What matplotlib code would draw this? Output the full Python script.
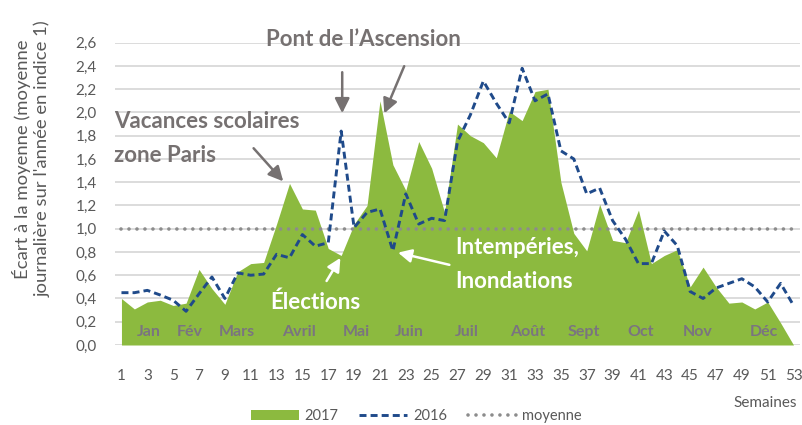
import matplotlib
matplotlib.use("Agg")
import matplotlib.pyplot as plt
from matplotlib.lines import Line2D
from matplotlib.patches import Patch

plt.rcParams['font.family'] = ['Lato', 'DejaVu Sans']

weeks = list(range(1, 54))
v2017 = [0.40, 0.31, 0.37, 0.385, 0.34, 0.36, 0.65, 0.485, 0.35, 0.63,
         0.70, 0.71, 1.04, 1.39, 1.17, 1.16, 0.83, 0.77, 1.04, 1.20,
         2.10, 1.55, 1.33, 1.75, 1.52, 1.14, 1.90, 1.80, 1.74, 1.61,
         2.01, 1.93, 2.18, 2.20, 1.40, 0.96, 0.81, 1.21, 0.90, 0.88,
         1.16, 0.70, 0.77, 0.82, 0.50, 0.67, 0.50, 0.36, 0.37, 0.31,
         0.37, 0.19, 0.0]
v2016 = [0.45, 0.45, 0.47, 0.43, 0.385, 0.29, 0.44, 0.585, 0.40, 0.62,
         0.60, 0.61, 0.78, 0.75, 0.95, 0.85, 0.88, 1.84, 1.01, 1.14,
         1.17, 0.81, 1.30, 1.04, 1.09, 1.07, 1.75, 1.98, 2.27, 2.08,
         1.91, 2.38, 2.10, 2.16, 1.67, 1.60, 1.30, 1.35, 1.07, 0.91,
         0.70, 0.70, 0.98, 0.855, 0.46, 0.40, 0.49, 0.53, 0.57, 0.50,
         0.37, 0.53, 0.34]
moyenne = [1.0] * len(weeks)

months = ['Jan', 'Fév', 'Mars', 'Avril', 'Mai', 'Juin', 'Juil', 'Août',
          'Sept', 'Oct', 'Nov', 'Déc']
month_pos = [3.1, 6.3, 9.9, 14.7, 19.2, 23.3, 27.7, 32.4, 36.8, 41.2, 45.6, 50.7]
yticks = [0.0, 0.2, 0.4, 0.6, 0.8, 1.0, 1.2, 1.4, 1.6, 1.8, 2.0, 2.2, 2.4, 2.6]
xticks = list(range(1, 54, 2))

GREEN = '#8cba3f'
BLUE = '#1f4a8a'
DOT = '#8c8c8c'
GRID = '#d9d9d9'
TXT = '#595959'
ANN = '#767171'

fig = plt.figure(figsize=(8.03, 4.25), dpi=100)
ax = fig.add_axes([115/803, 1-345/425, 685/803, (345-42.7)/425])

for y in yticks:
    ax.axhline(y, color=GRID, lw=1.3, zorder=0)

ax.fill_between(weeks, 0, v2017, color=GREEN, lw=0, zorder=1)
ax.plot(weeks, v2016, color=BLUE, lw=2.1, linestyle=(0, (2.4, 1.4)), zorder=3)
ax.plot(weeks, moyenne, color=DOT, lw=2.6, linestyle=(0, (0.01, 2.2)),
        dash_capstyle='round', zorder=2)

ax.set_xlim(0.5, 53.5)
ax.set_ylim(0, 2.6)
ax.set_yticks(yticks)
ax.set_yticklabels([f"{t:.1f}".replace('.', ',') for t in yticks])
ax.set_xticks(xticks)
ax.set_xticklabels([str(w) for w in xticks])
ax.tick_params(axis='both', length=0, labelsize=11, colors=TXT)
ax.tick_params(axis='x', pad=17)
ax.tick_params(axis='y', pad=13)
for s in ax.spines.values():
    s.set_visible(False)

fig.text(31.5/803, 1-159/425,
         "Écart à la moyenne (moyenne\njournalière sur l'année en indice 1)",
         rotation=90, ha='center', va='center', fontsize=13.3, color=TXT,
         linespacing=1.25, multialignment='center')

for m, p in zip(months, month_pos):
    ax.text(p, 0.11, m, ha='center', va='center', fontsize=11.5,
            fontweight='bold', color='#7a7480', zorder=4)

# Annotations
ax.text(19.7, 2.626, "Pont de l\u2019Ascension", ha='center', va='center',
        fontsize=16, fontweight='bold', color=ANN, clip_on=False)
ax.annotate('', xy=(18.08, 1.97), xytext=(18.08, 2.37),
            arrowprops=dict(arrowstyle='-|>', color=ANN, lw=1.8, mutation_scale=22))
ax.annotate('', xy=(21.25, 1.97), xytext=(22.96, 2.42),
            arrowprops=dict(arrowstyle='-|>', color=ANN, lw=1.8, mutation_scale=22))

ax.text(0.40, 1.776, "Vacances scolaires\nzone Paris", ha='left', va='center',
        fontsize=16, fontweight='bold', color=ANN, linespacing=1.8)
ax.annotate('', xy=(13.66, 1.39), xytext=(11.08, 1.71),
            arrowprops=dict(arrowstyle='-|>', color=ANN, lw=1.8, mutation_scale=22))

ax.text(16.0, 0.37, "Élections", ha='center', va='center',
        fontsize=16, fontweight='bold', color='white', zorder=5)
ax.annotate('', xy=(18.05, 0.77), xytext=(16.76, 0.53),
            arrowprops=dict(arrowstyle='-|>', color='white', lw=1.8, mutation_scale=20),
            zorder=5)

ax.text(26.84, 0.693, "Intempéries,\nInondations", ha='left', va='center',
        fontsize=16, fontweight='bold', color='white', linespacing=1.8, zorder=5)
ax.annotate('', xy=(22.19, 0.80), xytext=(26.58, 0.684),
            arrowprops=dict(arrowstyle='-|>', color='white', lw=1.8, mutation_scale=20),
            zorder=5)

fig.text(797/803, 1-403/425, "Semaines", ha='right', va='center',
         fontsize=11, color=TXT)

handles = [Patch(facecolor=GREEN, edgecolor='none'),
           Line2D([0], [0], color=BLUE, lw=2.1, linestyle=(0, (2.4, 1.4))),
           Line2D([0], [0], color=DOT, lw=2.6, linestyle=(0, (0.01, 2.2)),
                  dash_capstyle='round')]
leg = fig.legend(handles, ['2017', '2016', 'moyenne'], loc='center',
                 bbox_to_anchor=(416/803, 1-416/425), ncol=3, frameon=False,
                 fontsize=10.5, handlelength=3.3, handleheight=0.7,
                 handletextpad=0.4, columnspacing=1.4, labelcolor=TXT)

fig.savefig('out.png', dpi=100)
